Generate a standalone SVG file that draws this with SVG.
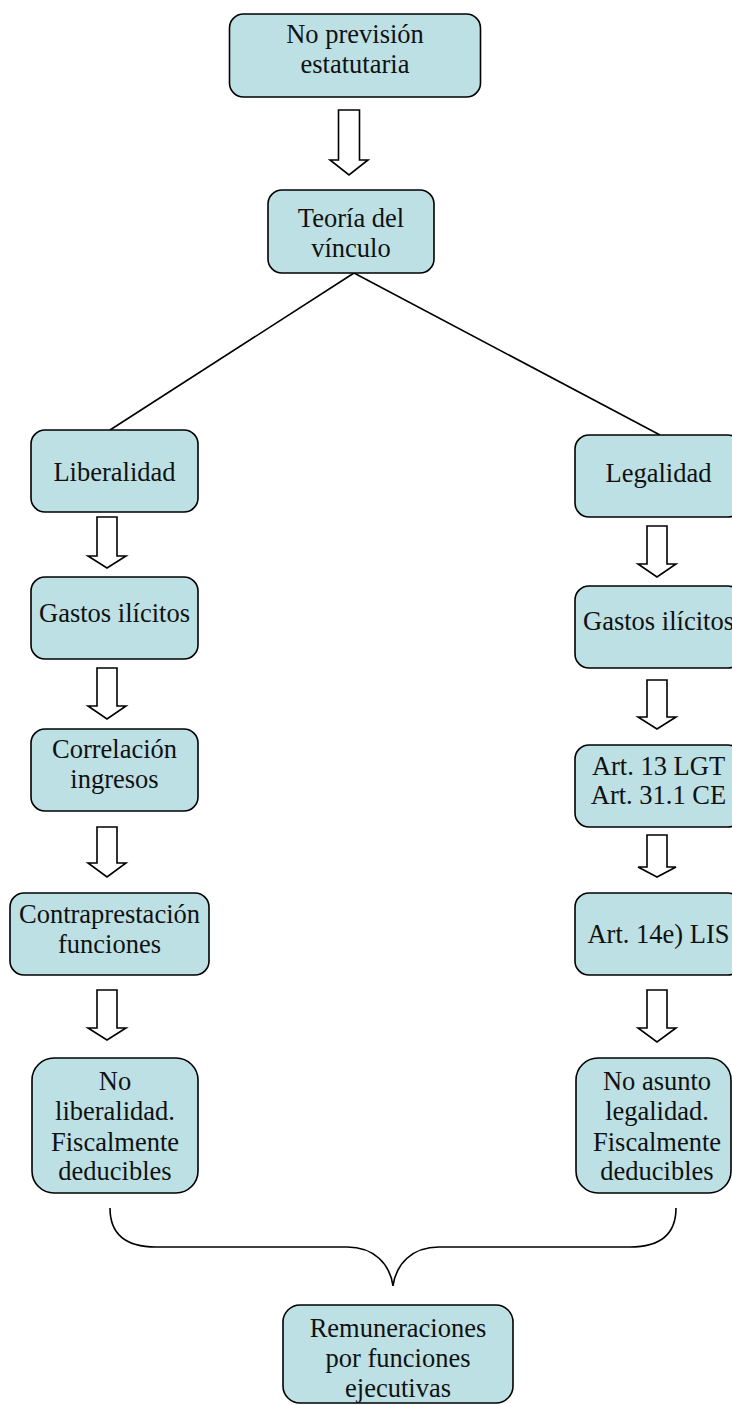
<svg xmlns="http://www.w3.org/2000/svg" width="732" height="1405" viewBox="0 0 732 1405">
  <style>
    .box { fill: #BCE0E3; stroke: #000; stroke-width: 1.6; }
    .lbl { font-family: "Liberation Serif", "Times New Roman", serif; font-size: 26.5px; fill: #111; text-anchor: middle; }
    .arrow { fill: #fff; stroke: #000; stroke-width: 1.6; stroke-linejoin: miter; }
    .wire { fill: none; stroke: #000; stroke-width: 1.6; }
  </style>
  <rect width="732" height="1405" fill="#fff"/>

  <!-- connectors: split lines, block arrows, closing brace -->
  <g id="connectors">
    <path class="wire" d="M354,273 L110,430"/>
    <path class="wire" d="M354,273 L660,435"/>

    <path class="arrow" d="M338.5,110 H359.5 V160 H368 L349,175 L330,160 H338.5 Z"/>

    <path class="arrow" d="M97,517 H117 V556 H126 L107,568 L88,556 H97 Z"/>
    <path class="arrow" d="M97,668 H117 V706 H126 L107,719 L88,706 H97 Z"/>
    <path class="arrow" d="M97,827 H117 V863 H126 L107,877 L88,863 H97 Z"/>
    <path class="arrow" d="M97,990 H117 V1028 H126 L107,1040 L88,1028 H97 Z"/>

    <path class="arrow" d="M647,526 H667 V564 H676 L657,577 L638,564 H647 Z"/>
    <path class="arrow" d="M647,680 H667 V717 H676 L657,729 L638,717 H647 Z"/>
    <path class="arrow" d="M647,835 H667 V867 H676 L657,877 L638,867 H647 Z"/>
    <path class="arrow" d="M647,990 H667 V1028 H676 L657,1042 L638,1028 H647 Z"/>

    <path class="wire" d="M110,1208 C110,1234 126,1247 156,1247 L347,1247 C374,1247 390,1264 393,1286 C396,1264 412,1247 439,1247 L630,1247 C660,1247 676,1234 676,1208"/>
  </g>

  <g id="no-prevision">
    <rect class="box" x="229.5" y="14" width="251" height="83" rx="14"/>
    <text class="lbl" x="355" y="43">No previsión</text>
    <text class="lbl" x="355" y="73">estatutaria</text>
  </g>

  <g id="teoria-vinculo">
    <rect class="box" x="268" y="190" width="166" height="83" rx="14"/>
    <text class="lbl" x="351" y="227">Teoría del</text>
    <text class="lbl" x="351" y="257">vínculo</text>
  </g>

  <g id="liberalidad">
    <rect class="box" x="31" y="430" width="167" height="82" rx="14"/>
    <text class="lbl" x="114.5" y="481">Liberalidad</text>
  </g>

  <g id="gastos-ilicitos-izq">
    <rect class="box" x="31" y="577" width="167" height="82" rx="14"/>
    <text class="lbl" x="114.5" y="622">Gastos ilícitos</text>
  </g>

  <g id="correlacion">
    <rect class="box" x="31" y="729" width="167" height="82" rx="14"/>
    <text class="lbl" x="114.5" y="758">Correlación</text>
    <text class="lbl" x="114.5" y="788">ingresos</text>
  </g>

  <g id="contraprestacion">
    <rect class="box" x="10" y="893" width="199" height="82" rx="14"/>
    <text class="lbl" x="109.5" y="923">Contraprestación</text>
    <text class="lbl" x="109.5" y="953">funciones</text>
  </g>

  <g id="no-liberalidad">
    <rect class="box" x="32" y="1058" width="166" height="135" rx="22"/>
    <text class="lbl" x="115" y="1090">No</text>
    <text class="lbl" x="115" y="1120">liberalidad.</text>
    <text class="lbl" x="115" y="1151">Fiscalmente</text>
    <text class="lbl" x="115" y="1180">deducibles</text>
  </g>

  <g id="legalidad">
    <rect class="box" x="575" y="435" width="167" height="82" rx="14"/>
    <text class="lbl" x="658.5" y="482">Legalidad</text>
  </g>

  <g id="gastos-ilicitos-der">
    <rect class="box" x="575" y="586" width="167" height="82" rx="14"/>
    <text class="lbl" x="658.5" y="630">Gastos ilícitos</text>
  </g>

  <g id="art-13-lgt">
    <rect class="box" x="575" y="745" width="167" height="82" rx="14"/>
    <text class="lbl" x="658.5" y="775">Art. 13 LGT</text>
    <text class="lbl" x="658.5" y="804">Art. 31.1 CE</text>
  </g>

  <g id="art-14e-lis">
    <rect class="box" x="575" y="893" width="167" height="82" rx="14"/>
    <text class="lbl" x="658.5" y="943">Art. 14e) LIS</text>
  </g>

  <g id="no-asunto-legalidad">
    <rect class="box" x="576" y="1058" width="155" height="135" rx="22"/>
    <text class="lbl" x="657" y="1090">No asunto</text>
    <text class="lbl" x="657" y="1120">legalidad.</text>
    <text class="lbl" x="657" y="1151">Fiscalmente</text>
    <text class="lbl" x="657" y="1180">deducibles</text>
  </g>

  <g id="remuneraciones">
    <rect class="box" x="283" y="1305" width="230" height="98" rx="17"/>
    <text class="lbl" x="398" y="1337">Remuneraciones</text>
    <text class="lbl" x="398" y="1367">por funciones</text>
    <text class="lbl" x="398" y="1397">ejecutivas</text>
  </g>
</svg>
